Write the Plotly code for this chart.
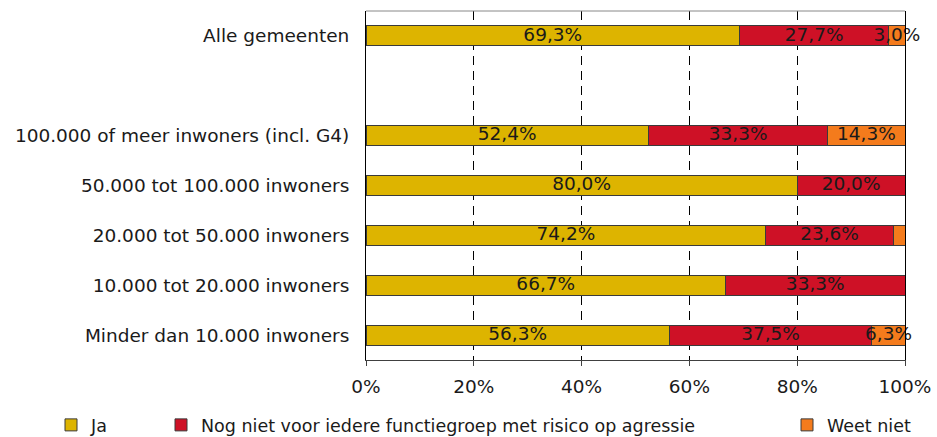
import plotly.graph_objects as go

categories = [
    "Alle gemeenten",
    " ",
    "100.000 of meer inwoners (incl. G4)",
    "50.000 tot 100.000 inwoners",
    "20.000 tot 50.000 inwoners",
    "10.000 tot 20.000 inwoners",
    "Minder dan 10.000 inwoners",
]
series_names = ["Ja", "Nog niet voor iedere functiegroep met risico op agressie", "Weet niet"]
ja = [69.3, None, 52.4, 80.0, 74.2, 66.7, 56.3]
nog_niet = [27.7, None, 33.3, 20.0, 23.6, 33.3, 37.5]
weet_niet = [3.0, None, 14.3, 0.0, 2.2, 0.0, 6.3]
tick_vals = [0, 20, 40, 60, 80, 100]
tick_labels = ["0%", "20%", "40%", "60%", "80%", "100%"]

colors = ["#DDB400", "#CE1126", "#F47B1C"]
FONT = "DejaVu Sans"
series = [ja, nog_niet, weet_niet]

fig = go.Figure()
legends = ["legend", "legend2", "legend3"]
for name, vals, col, lg in zip(series_names, series, colors, legends):
    fig.add_trace(go.Bar(
        y=categories, x=vals, name=name, orientation="h",
        marker=dict(color=col, line=dict(color="#3a3a3a", width=1)),
        legend=lg, hoverinfo="skip",
    ))

# value labels centred on each segment
lx, ly, lt = [], [], []
for i, cat in enumerate(categories):
    base = 0.0
    for vals in series:
        v = vals[i]
        if v is None:
            continue
        if v >= 3:
            lx.append(base + v / 2)
            ly.append(cat)
            lt.append(f"{v:.1f}".replace(".", ",") + "%")
        base += v
fig.add_trace(go.Scatter(
    x=lx, y=ly, text=lt, mode="text", showlegend=False, cliponaxis=False,
    textfont=dict(family=FONT, size=18.5, color="#1a1a1a"), hoverinfo="skip",
))

leg_common = dict(orientation="h", xref="container", yref="container",
                  xanchor="left", yanchor="middle",
                  font=dict(size=17.5), bgcolor="rgba(0,0,0,0)")
leg_y = 1 - 425 / 437

fig.update_layout(
    width=937, height=437,
    barmode="stack", bargap=0.6,
    plot_bgcolor="white", paper_bgcolor="white",
    margin=dict(l=366, r=32, t=11, b=77, autoexpand=False),
    font=dict(family=FONT, size=18.5, color="#1a1a1a"),
    xaxis=dict(
        range=[0, 100], tickvals=tick_vals, ticktext=tick_labels,
        showline=True, linecolor="#404040", linewidth=1,
        ticks="outside", ticklen=5, tickcolor="#404040",
        showgrid=True, gridcolor="#000000", gridwidth=1, griddash="9px,6px",
        zeroline=False, tickfont=dict(size=18.5), automargin=False,
        ticklabelstandoff=5,
    ),
    yaxis=dict(
        categoryorder="array", categoryarray=categories,
        range=[6.5, -0.5], showline=True, linecolor="#000000", linewidth=1,
        mirror=True, ticks="", ticklabelstandoff=12, showgrid=False,
        tickfont=dict(size=18.5), automargin=False,
    ),
    legend=dict(x=51 / 937, y=leg_y, **leg_common),
    legend2=dict(x=161 / 937, y=leg_y, **leg_common),
    legend3=dict(x=787 / 937, y=leg_y, **leg_common),
    shapes=[dict(type="line", xref="paper", yref="paper", x0=0, x1=1, y0=1, y1=1,
                 line=dict(color="#888888", width=1))],
)

fig.write_html(
    "out.html",
    config={"displayModeBar": False},
    post_script="document.body.style.margin='0';document.body.style.overflow='hidden';",
)
